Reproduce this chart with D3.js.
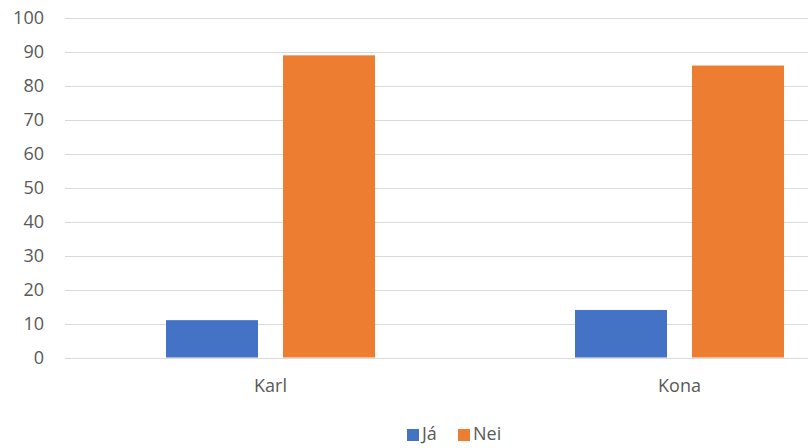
<!DOCTYPE html>
<html><head><meta charset="utf-8">
<script src="https://cdn.jsdelivr.net/npm/d3@7"></script>
<style>body{margin:0;background:#fff}svg{display:block}text{font-family:"Open Sans",sans-serif;fill:#595959}</style>
</head><body>
<script>
const categories = ["Karl", "Kona"];
const seriesNames = ["Já", "Nei"];
const jaValues = [11, 14];
const neiValues = [89, 86];
const yTicks = [0,10,20,30,40,50,60,70,80,90,100];
const colors = ["#4472C4", "#ED7D31"];

const W = 808, H = 448;
const svg = d3.select("body").append("svg").attr("width", W).attr("height", H);
const x = d3.scaleBand().domain(categories).range([66, 884]).paddingInner(0).paddingOuter(0);
const y = d3.scaleLinear().domain([0, 100]).range([357.5, 18]);
const x1 = d3.scaleBand().domain(seriesNames).range([0, 209]).paddingInner(25/117).paddingOuter(0);

const grid = svg.append("g");
grid.selectAll("line").data(yTicks).join("line")
  .attr("x1", 65).attr("x2", W)
  .attr("y1", d => Math.round(y(d)) + 0.5).attr("y2", d => Math.round(y(d)) + 0.5)
  .attr("stroke", "#d9d9d9").attr("stroke-width", 1);

const yAxis = d3.axisLeft(y).tickValues(yTicks).tickSize(0).tickPadding(0);
const ya = svg.append("g").attr("transform", "translate(44,0)").call(yAxis);
ya.select(".domain").remove();
ya.selectAll("text").style("font-size", "18px").attr("fill", "#595959");

const xAxis = d3.axisBottom(x).tickSize(0).tickPadding(0);
const xa = svg.append("g").attr("transform", "translate(0,379)").call(xAxis);
xa.select(".domain").remove();
xa.selectAll("text").style("font-size", "18px").attr("fill", "#595959");

const data = categories.map((c, i) => ({cat: c, vals: [jaValues[i], neiValues[i]]}));
const groups = svg.append("g").selectAll("g").data(data).join("g")
  .attr("transform", d => `translate(${x(d.cat) + (x.bandwidth() - 209) / 2},0)`);
groups.selectAll("rect").data(d => d.vals.map((v, j) => ({s: seriesNames[j], v, j}))).join("rect")
  .attr("x", d => x1(d.s)).attr("width", x1.bandwidth())
  .attr("y", d => y(d.v)).attr("height", d => y(0) - y(d.v))
  .attr("fill", d => colors[d.j]);

const legend = svg.append("g");
const lx = [407, 458];
seriesNames.forEach((s, i) => {
  legend.append("rect").attr("x", lx[i]).attr("y", 429).attr("width", 12).attr("height", 12).attr("fill", colors[i]);
  legend.append("text").attr("x", lx[i] + 15).attr("y", 434).attr("dy", "0.35em").style("font-size", "18px").text(s);
});
</script>
</body></html>
